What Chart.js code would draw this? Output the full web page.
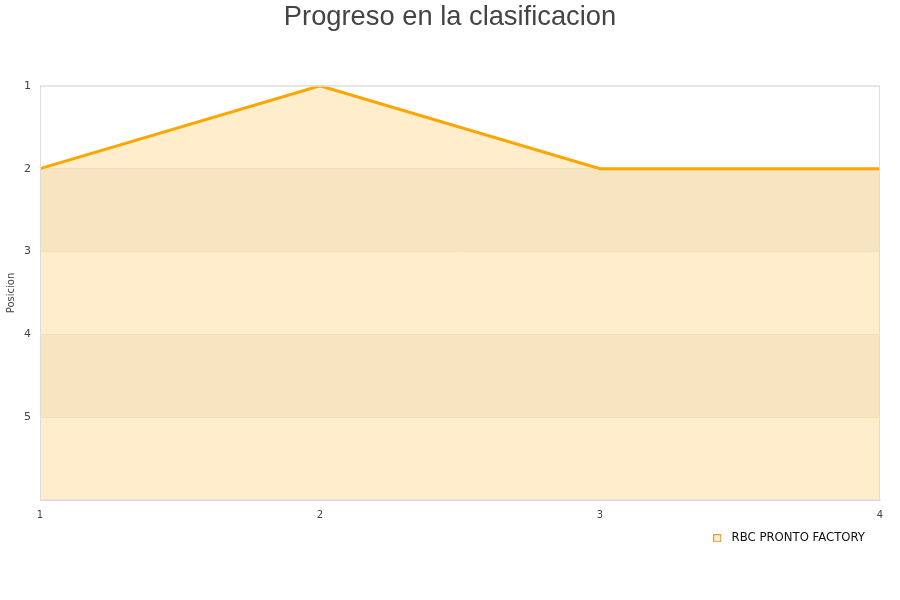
<!DOCTYPE html>
<html>
<head>
<meta charset="utf-8">
<script src="https://cdn.jsdelivr.net/npm/chart.js@4/dist/chart.umd.min.js"></script>
<style>
  html, body { margin: 0; padding: 0; background: #fff; }
  #wrap { width: 900px; height: 600px; }
</style>
</head>
<body>
<div id="wrap"><canvas id="chart"></canvas></div>
<script>
const rounds = ['1', '2', '3', '4']
const positions = [2, 1, 2, 2]
const teamName = 'RBC PRONTO FACTORY'
const shadedBands = [[2, 3], [4, 5]]

// legend marker: small square box with some empty room after it
const legendBox = document.createElement('canvas')
legendBox.width = 14
legendBox.height = 8
const lb = legendBox.getContext('2d')
lb.fillStyle = '#fdeccb'
lb.fillRect(0, 0, 8, 8)
lb.strokeStyle = '#d9a040'
lb.lineWidth = 1
lb.strokeRect(0.5, 0.5, 7, 7)

// light stripes behind the fill, every other position, plus a box round the plot
const bandsPlugin = {
  id: 'bands',
  afterLayout(chart) {
    // let the x tick labels sit below the narrow x scale box without clipping
    chart.scales.x.bottom += 20
  },
  beforeDatasetsDraw(chart) {
    const { ctx, chartArea, scales } = chart
    ctx.save()
    ctx.fillStyle = '#f5f4f2'
    shadedBands.forEach(([a, b]) => {
      const y1 = scales.y.getPixelForValue(a)
      const y2 = scales.y.getPixelForValue(b)
      ctx.fillRect(chartArea.left, y1, chartArea.right - chartArea.left, y2 - y1)
    })
    ctx.restore()
  },
  afterDraw(chart) {
    const { ctx, chartArea } = chart
    ctx.save()
    ctx.strokeStyle = '#dddddd'
    ctx.lineWidth = 1
    ctx.strokeRect(chartArea.left + 0.5, chartArea.top + 0.5,
      chartArea.right - chartArea.left - 1, chartArea.bottom - chartArea.top - 1)
    ctx.restore()
  }
}

Chart.defaults.font.family = 'DejaVu Sans'
Chart.defaults.color = '#444'

new Chart(document.getElementById('chart'), {
  type: 'line',
  data: {
    labels: rounds,
    datasets: [{
      label: teamName,
      data: positions,
      borderColor: '#ffa500',
      backgroundColor: 'rgba(255, 165, 0, 0.2)',
      borderWidth: 3,
      fill: 'start',
      tension: 0,
      pointRadius: 0,
      pointHoverRadius: 0
    }]
  },
  options: {
    responsive: true,
    maintainAspectRatio: false,
    animation: false,
    layout: { padding: { left: 0, right: 0, top: 0, bottom: 46 } },
    plugins: {
      title: {
        display: true,
        text: 'Progreso en la clasificacion',
        color: '#444',
        font: { family: 'Liberation Sans', size: 27.3, weight: 'normal' },
        padding: { top: 1, bottom: 52 }
      },
      legend: {
        position: 'bottom',
        align: 'end',
        fullSize: false,
        labels: {
          color: '#111',
          font: { size: 11.7 },
          usePointStyle: true,
          pointStyle: legendBox,
          boxWidth: 11,
          boxHeight: 8,
          padding: 15
        }
      },
      tooltip: { enabled: false }
    },
    scales: {
      x: {
        offset: false,
        grid: { display: false, drawTicks: false },
        border: { color: '#ddd' },
        ticks: { font: { size: 10 }, padding: 9, maxRotation: 0 },
        afterFit: (scale) => {
          scale.height = 17
          scale.paddingRight = 20
        }
      },
      y: {
        reverse: true,
        min: 1,
        max: 6,
        grid: { color: 'rgba(200, 170, 120, 0.25)', drawTicks: false },
        border: { color: '#ddd' },
        title: { display: true, text: 'Posicion', font: { size: 10 }, padding: 5 },
        ticks: {
          stepSize: 1,
          font: { size: 11 },
          padding: 9,
          callback: (v) => (v === 6 ? '' : v)
        },
        afterFit: (scale) => {
          scale.width = 40
        }
      }
    }
  },
  plugins: [bandsPlugin]
})
</script>
</body>
</html>
